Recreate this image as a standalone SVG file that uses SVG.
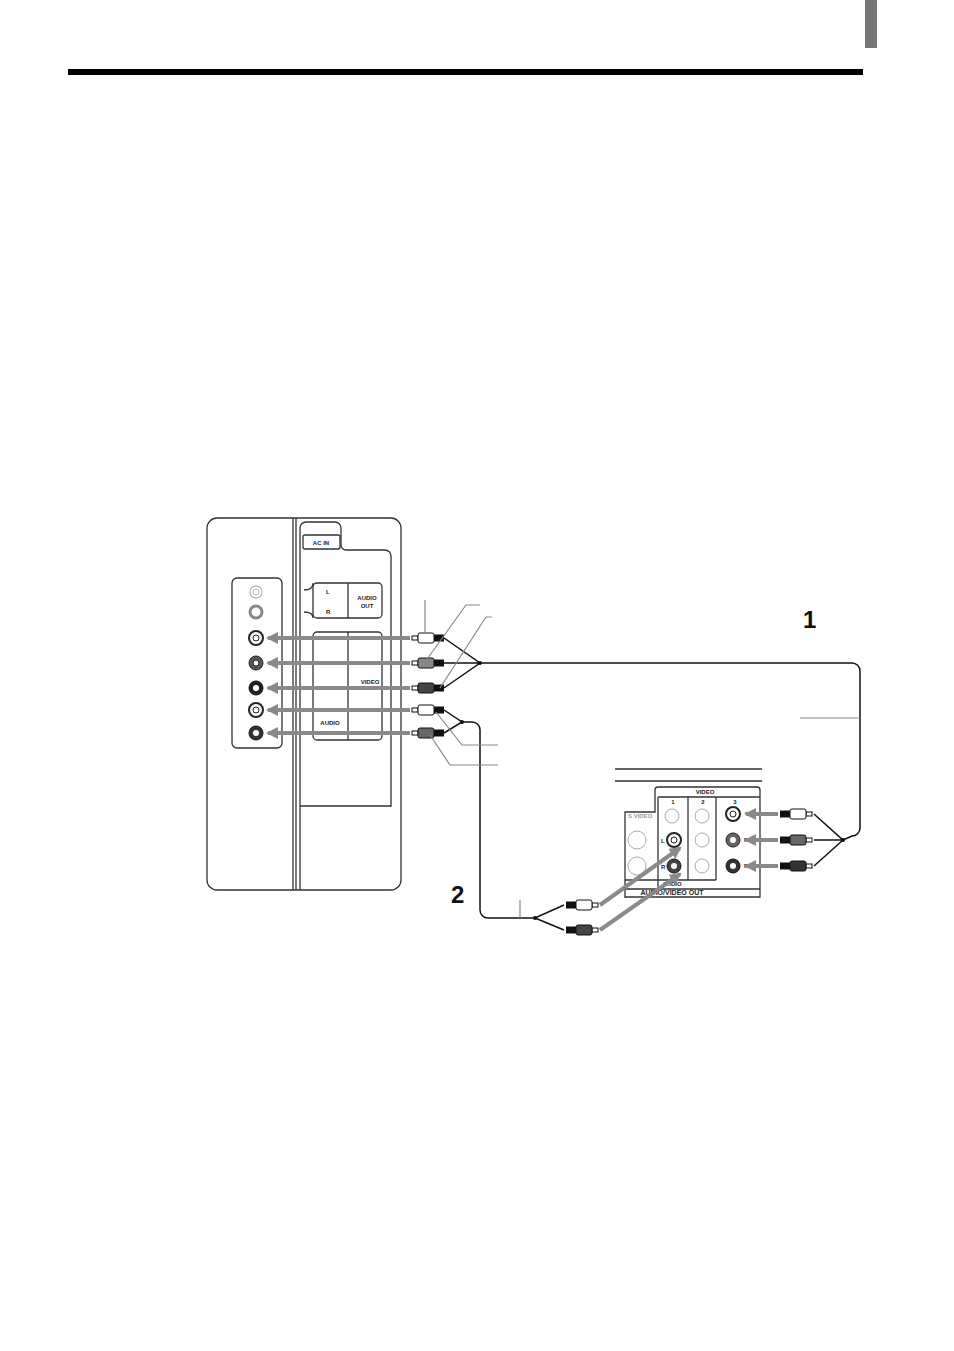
<svg xmlns="http://www.w3.org/2000/svg" width="954" height="1351" viewBox="0 0 954 1351">
<style>
.o{fill:none;stroke:#333;stroke-width:1.3}
.g{fill:none;stroke:#888;stroke-width:1.2}
.arr{stroke:#8a8a8a;stroke-width:4;fill:none}
.c{fill:none;stroke:#111;stroke-width:1.5}
.t{font-family:"Liberation Sans",Arial,sans-serif;font-weight:bold;font-size:6px;fill:#222}
.big{font-family:"Liberation Sans",Arial,sans-serif;font-weight:bold;font-size:24px;fill:#111}
</style>
<defs>
<marker id="ah" markerWidth="3" markerHeight="3" refX="2.5" refY="1.5" orient="auto" markerUnits="strokeWidth"><path d="M0,0 L3,1.5 L0,3 z" fill="#8a8a8a"/></marker>
<g id="plug"><rect x="0" y="-2" width="6" height="4" fill="#fff" stroke="#111"/><rect x="6" y="-5" width="16" height="10" rx="2" stroke="#111"/><rect x="22" y="-3.5" width="10" height="7" fill="#111"/></g>
<g id="jk"><circle r="7" fill="none" stroke="#222" stroke-width="2"/><circle r="3" fill="#fff" stroke="#222"/></g>
</defs>
<rect x="865" y="0" width="12" height="48" fill="#777"/>
<rect x="68" y="69" width="795" height="6" fill="#000"/>

<g id="tv">
<rect x="207" y="518" width="194" height="372" rx="10" class="o"/>
<line x1="293" y1="518" x2="293" y2="890" class="o"/><line x1="296" y1="518" x2="296" y2="890" class="o"/>
<path d="M300,890 V528 a6,6 0 0 1 6,-6 H335 a6,6 0 0 1 6,6 V545 a5,5 0 0 0 5,5 H385 a6,6 0 0 1 6,6 V806 H300" class="o"/>
<rect x="303" y="535" width="37" height="14" rx="2" class="o"/>
<text x="321" y="545" class="t" text-anchor="middle">AC IN</text>
<rect x="313" y="583" width="69" height="35" rx="4" class="o"/>
<line x1="348" y1="583" x2="348" y2="618" class="o"/>
<path d="M304,590 Q313,590 313,583 M304,612 Q313,612 313,618" class="o"/>
<text x="326" y="594" class="t">L</text><text x="326" y="614" class="t">R</text>
<text x="367" y="600" class="t" text-anchor="middle">AUDIO</text><text x="367" y="608" class="t" text-anchor="middle">OUT</text>
<rect x="313" y="632" width="69" height="108" rx="4" class="o"/>
<line x1="348" y1="632" x2="348" y2="740" class="o"/>
<text x="370" y="684" class="t" text-anchor="middle">VIDEO</text>
<text x="330" y="725" class="t" text-anchor="middle">AUDIO</text>
<rect x="232" y="578" width="50" height="170" rx="5" class="o"/>
<circle cx="256" cy="592" r="6" fill="none" stroke="#bbb" stroke-width="1.5"/><circle cx="256" cy="592" r="3" fill="none" stroke="#bbb"/>
<circle cx="256" cy="612" r="6" fill="none" stroke="#888" stroke-width="3"/>
<use href="#jk" x="256" y="638"/>
<g transform="translate(256,663)"><circle r="7" fill="#555" stroke="#222"/><circle r="3" fill="#fff" stroke="#222"/></g>
<g transform="translate(256,688)"><circle r="7" fill="#222" stroke="#111"/><circle r="3" fill="#fff"/></g>
<use href="#jk" x="256" y="710"/>
<g transform="translate(256,733)"><circle r="7" fill="#333" stroke="#111"/><circle r="3" fill="#fff"/></g>
</g>

<g id="dvd">
<line x1="615" y1="769" x2="762" y2="769" class="o"/><line x1="615" y1="781" x2="762" y2="781" class="o"/>
<path d="M625,898 V812 H655 V790 a3,3 0 0 1 3,-3 H757 a3,3 0 0 1 3,3 V897 H625" class="o"/>
<line x1="658" y1="797" x2="760" y2="797" class="o"/>
<line x1="688" y1="797" x2="688" y2="880" class="o"/><line x1="716" y1="797" x2="716" y2="880" class="o"/>
<line x1="625" y1="880" x2="716" y2="880" class="o"/><line x1="625" y1="889" x2="760" y2="889" class="o"/>
<line x1="658" y1="797" x2="658" y2="889" class="o"/>
<text x="705" y="794" class="t" text-anchor="middle">VIDEO</text>
<text x="673" y="804" class="t" text-anchor="middle">1</text><text x="703" y="804" class="t" text-anchor="middle">2</text><text x="735" y="804" class="t" text-anchor="middle">3</text>
<text x="628" y="818" class="t" style="fill:#999">S VIDEO</text>
<circle cx="637" cy="840" r="9" fill="none" stroke="#aaa"/><circle cx="637" cy="866" r="9" fill="none" stroke="#aaa"/>
<circle cx="672" cy="816" r="7" fill="none" stroke="#aaa"/><circle cx="702" cy="816" r="7" fill="none" stroke="#aaa"/>
<circle cx="702" cy="840" r="7" fill="none" stroke="#aaa"/><circle cx="702" cy="866" r="7" fill="none" stroke="#aaa"/>
<use href="#jk" x="674" y="840"/>
<g transform="translate(674,866)"><circle r="7" fill="#444" stroke="#111"/><circle r="3" fill="#fff"/></g>
<use href="#jk" x="733" y="814"/>
<g transform="translate(733,840)"><circle r="7" fill="#666" stroke="#222"/><circle r="3" fill="#fff"/></g>
<g transform="translate(733,866)"><circle r="7" fill="#333" stroke="#111"/><circle r="3" fill="#fff"/></g>
<text x="661" y="843" class="t">L</text><text x="661" y="869" class="t">R</text>
<text x="745" y="816" class="t">Y</text><text x="744" y="842" class="t">PB</text><text x="744" y="868" class="t">PR</text>
<text x="672" y="886" class="t" text-anchor="middle">AUDIO</text>
<text x="672" y="895" class="t" text-anchor="middle" style="font-size:7px">AUDIO/VIDEO OUT</text>
</g>

<g id="connectors">
<g class="arr">
<line x1="410" y1="638" x2="268" y2="638" marker-end="url(#ah)"/>
<line x1="410" y1="663" x2="268" y2="663" marker-end="url(#ah)"/>
<line x1="410" y1="688" x2="268" y2="688" marker-end="url(#ah)"/>
<line x1="410" y1="710" x2="268" y2="710" marker-end="url(#ah)"/>
<line x1="410" y1="733" x2="268" y2="733" marker-end="url(#ah)"/>
<line x1="778" y1="814" x2="746" y2="814" marker-end="url(#ah)"/>
<line x1="778" y1="840" x2="746" y2="840" marker-end="url(#ah)"/>
<line x1="778" y1="866" x2="746" y2="866" marker-end="url(#ah)"/>
<line x1="600" y1="905" x2="680" y2="848" marker-end="url(#ah)"/>
<line x1="600" y1="930" x2="680" y2="874" marker-end="url(#ah)"/>
</g>
<use href="#plug" x="412" y="638" fill="#fff"/>
<use href="#plug" x="412" y="663" fill="#888"/>
<use href="#plug" x="412" y="688" fill="#444"/>
<use href="#plug" x="412" y="710" fill="#fff"/>
<use href="#plug" x="412" y="733" fill="#666"/>
<g transform="translate(812,814) scale(-1,1)"><use href="#plug" fill="#fff"/></g>
<g transform="translate(812,840) scale(-1,1)"><use href="#plug" fill="#666"/></g>
<g transform="translate(812,866) scale(-1,1)"><use href="#plug" fill="#333"/></g>
<g transform="translate(598,905) scale(-1,1)"><use href="#plug" fill="#fff"/></g>
<g transform="translate(598,930) scale(-1,1)"><use href="#plug" fill="#444"/></g>
<path d="M444,638 L480,663 L444,688 M444,663 H852 a8,8 0 0 1 8,8 V828 a8,8 0 0 1 -8,8 L843,840 L814,814 M843,840 L814,866 M814,840 H843" class="c"/>
<path d="M444,710 L462,722 L444,733 M462,722 H472 a8,8 0 0 1 8,8 V910 a8,8 0 0 0 8,8 H535 L564,905 M535,918 L564,930" class="c"/>
<circle cx="462" cy="722" r="2" fill="#111"/><circle cx="480" cy="663" r="2" fill="#111"/><circle cx="843" cy="840" r="2" fill="#111"/><circle cx="535" cy="918" r="2" fill="#111"/>
<g class="g">
<line x1="425" y1="600" x2="425" y2="632"/>
<path d="M480,605 H466 L425,662"/>
<path d="M492,617 H486 L440,688"/>
<path d="M498,745 H462 L436,712"/>
<path d="M498,765 H450 L430,735"/>
<line x1="800" y1="718" x2="860" y2="718"/>
<line x1="520" y1="900" x2="520" y2="918"/>
</g>
</g>
<text x="803" y="628" class="big">1</text>
<text x="451" y="903" class="big">2</text>
</svg>
